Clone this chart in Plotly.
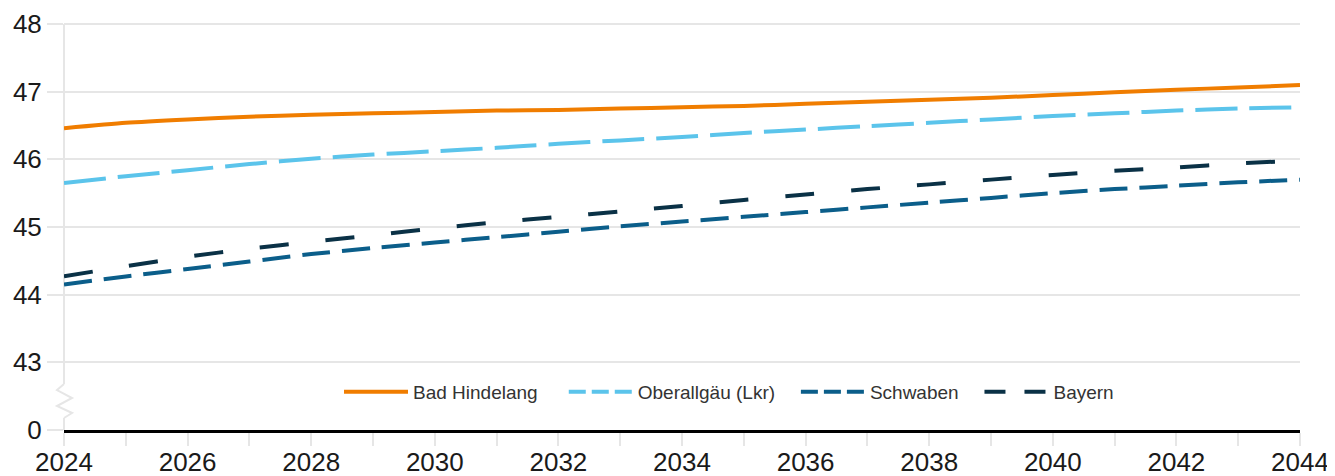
import plotly.graph_objects as go

years = list(range(2024, 2045))
bad_hindelang = [46.46, 46.54, 46.59, 46.63, 46.66, 46.68, 46.70, 46.72, 46.73, 46.75, 46.77,
                 46.79, 46.82, 46.85, 46.88, 46.91, 46.95, 46.99, 47.03, 47.06, 47.10]
oberallgaeu = [45.65, 45.75, 45.84, 45.93, 46.01, 46.07, 46.12, 46.17, 46.23, 46.28, 46.33,
               46.39, 46.44, 46.49, 46.54, 46.59, 46.64, 46.68, 46.72, 46.75, 46.77]
schwaben = [44.15, 44.27, 44.38, 44.49, 44.60, 44.69, 44.77, 44.85, 44.93, 45.01, 45.08,
            45.15, 45.22, 45.29, 45.36, 45.43, 45.50, 45.56, 45.61, 45.66, 45.70]
bayern = [44.27, 44.42, 44.56, 44.68, 44.78, 44.88, 44.98, 45.07, 45.15, 45.23, 45.31,
          45.40, 45.48, 45.56, 45.63, 45.70, 45.77, 45.83, 45.88, 45.94, 45.98]

y_tickvals = [42, 43, 44, 45, 46, 47, 48]
y_ticktext = ["0", "43", "44", "45", "46", "47", "48"]
x_tickvals = list(range(2024, 2045, 2))

FONT = "Liberation Sans, Arial, sans-serif"
GRID = "#e6e6e6"
NB = "\u00a0"

fig = go.Figure()
series = [
    ("Bad Hindelang", bad_hindelang, "#F07D00", "solid", "solid", 4),
    ("Oberallgäu (Lkr)", oberallgaeu, "#5BC4EB", "42px,12px", "17px,6px", 3),
    ("Schwaben", schwaben, "#0B5E8A", "28px,12px", "17px,6px", 3),
    ("Bayern", bayern, "#0A3146", "29px,37px", "21px,19px", 0),
]
for name, vals, color, dash, ldash, pad in series:
    fig.add_trace(go.Scatter(
        x=years, y=vals, name=name, mode="lines", showlegend=False,
        line=dict(color=color, width=4, dash=dash, shape="spline", smoothing=0.6),
    ))
# legend entries (same series, legend-specific dash pattern)
for name, vals, color, dash, ldash, pad in series:
    fig.add_trace(go.Scatter(
        x=[None], y=[None], name=name + NB * pad, mode="lines", showlegend=True,
        line=dict(color=color, width=4, dash=ldash), hoverinfo="skip",
    ))

# y axis line with break (paper coords)
zz = 7 / 1236
fig.add_shape(type="line", xref="paper", yref="paper", x0=0, x1=0, y0=1, y1=0.1133,
              line=dict(color=GRID, width=2), layer="below")
fig.add_shape(type="line", xref="paper", yref="paper", x0=0, x1=0, y0=0.0296, y1=0,
              line=dict(color=GRID, width=2), layer="below")
fig.add_shape(type="path", xref="paper", yref="paper",
              path=f"M0,0.1133 L{-zz},0.0985 L{zz*1.15},0.0788 L{-zz},0.0591 L{zz*1.15},0.0419 L0,0.0296",
              line=dict(color=GRID, width=2), layer="below")
# top gridline (at 48)
fig.add_shape(type="line", xref="paper", yref="paper", x0=0, x1=1, y0=1, y1=1,
              line=dict(color=GRID, width=2), layer="below")

fig.update_layout(
    width=1327, height=468,
    margin=dict(l=56, r=35, t=16, b=46),
    paper_bgcolor="white", plot_bgcolor="white",
    font=dict(family=FONT, color="#1a1a1a"),
    showlegend=True,
    legend=dict(
        orientation="h", x=(339 - 64) / 1236, y=(430 - 392) / 406,
        xanchor="left", yanchor="middle",
        font=dict(size=19, color="#333333", family=FONT),
        bgcolor="rgba(0,0,0,0)", itemwidth=64, traceorder="normal",
    ),
    xaxis=dict(
        range=[2024, 2044], tickvals=x_tickvals, ticktext=[str(v) for v in x_tickvals],
        showgrid=False, zeroline=False, automargin=False,
        showline=True, linecolor="black", linewidth=2.5,
        ticks="outside", ticklen=13, tickwidth=2, tickcolor=GRID,
        ticklabelstandoff=-6,
        minor=dict(dtick=1, tick0=2024, ticks="outside", ticklen=13, tickwidth=2,
                   tickcolor=GRID, showgrid=False),
        tickfont=dict(size=26, family=FONT, color="#1a1a1a"),
    ),
    yaxis=dict(
        range=[42, 48], tickvals=y_tickvals, ticktext=y_ticktext,
        showgrid=True, gridcolor=GRID, gridwidth=2, zeroline=False, showline=False,
        automargin=False,
        ticks="outside", ticklen=16, tickwidth=2, tickcolor=GRID,
        tickfont=dict(size=26, family=FONT, color="#1a1a1a"),
    ),
)

fig.write_html("out.html")
